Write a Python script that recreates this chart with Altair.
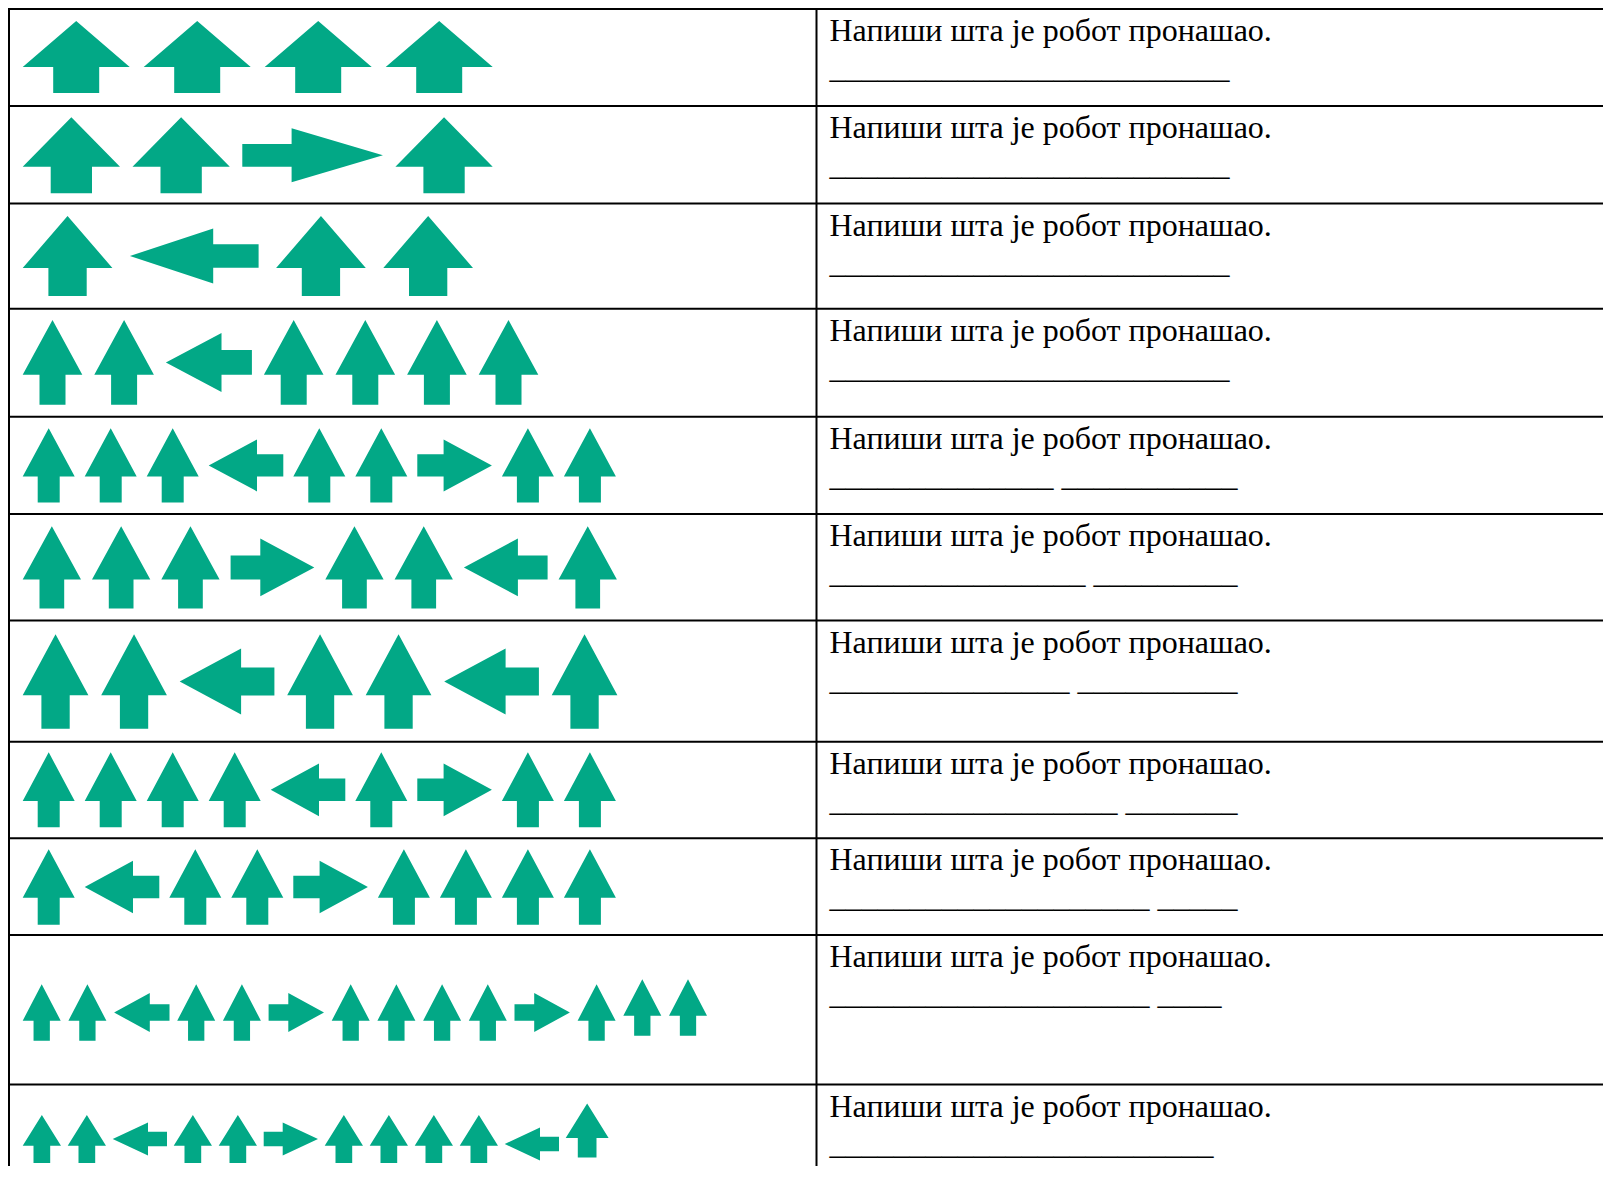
import altair as alt
import pandas as pd

# ---------------- content ----------------
PROMPT = "Напиши шта је робот пронашао."

# robot moves per row: U = up, L = left, R = right
ROBOT_MOVES = [
    "UUUU",
    "UURU",
    "ULUU",
    "UULUUUU",
    "UUULUURUU",
    "UUURUULU",
    "UULUULU",
    "UUUULURUU",
    "ULUURUUUU",
    "UULUURUUUURUUU",
    "UULUURUUUULU",
]

# answer blanks: number of underscores in each segment
BLANKS = [[25], [25], [25], [25], [14, 11], [16, 9], [15, 10], [18, 7], [20, 5], [20, 4], [24]]

# ---------------- layout (page pixels) ----------------
W, H = 1595, 1158
XMIN, XMAX = 8, 8 + W
YMIN, YMAX = 8, 8 + H
ROW_TOPS = [9, 106, 203.5, 308.7, 416.7, 514, 620.5, 741.7, 838.3, 935, 1084.5]
COL_LINES = [9, 816.5]
ARROW_CY = [56.9, 155.3, 256, 362.4, 465.4, 567.4, 681.5, 789.8, 887, 1012.5, 1139]
ARROW_X0 = 22.7
TEXT_X = 829.5
PROMPT_DY = 32
BLANK_DY = 69
# per row: up arrow (width, height, head height, stem width),
#          side arrow (length, head span, head length, stem thickness), gap
ARROW_STYLE = [
    ((107, 72, 46, 46), None, 14),
    ((97.3, 76, 49.4, 41.3), (140.6, 54, 91.3, 22.7), 12.5),
    ((89.7, 80, 52, 38.3), (128.7, 55, 83.3, 23.7), 17.5),
    ((59.6, 84.7, 54.7, 26), (86, 59, 55.6, 24.7), 12),
    ((52, 74.4, 48.4, 22), (74.6, 52, 48.3, 22.4), 10),
    ((58.3, 82.4, 53.4, 24.7), (83.7, 57.7, 54, 24), 11),
    ((65.7, 94.4, 61, 28.3), (94.7, 66, 61.4, 28), 12.8),
    ((52, 75, 48.7, 22), (74.6, 52.7, 48.3, 22.4), 10),
    ((52, 75.4, 48.4, 22), (74.6, 52.7, 48.3, 22.4), 10),
    ((38, 56.4, 36.4, 16.3), (55.4, 39, 35.7, 16.4), 7.7),
    ((38.3, 48, 30.7, 16.7), (54.3, 33, 35.3, 14.3), 6.7),
]
# (row, index) -> (vertical shift, scale)
TWEAKS = {(9, 12): (-5, 1.0), (9, 13): (-5, 1.0), (10, 10): (5, 1.0), (10, 11): (-8.5, 1.12)}
COLOR = "#02A886"


def f(v):
    return f"{v:.2f}"


def up_path(w, h, hh, sw):
    t, b = -h / 2, h / 2
    base = t + hh
    pts = [(0, t), (w / 2, base), (sw / 2, base), (sw / 2, b), (-sw / 2, b),
           (-sw / 2, base), (-w / 2, base)]
    return "M" + " L".join(f"{f(x)} {f(y)}" for x, y in pts) + " Z"


def side_path(L, hs, hl, st, sign):
    tip = L / 2
    back = L / 2 - hl
    pts = [(tip, 0), (back, -hs / 2), (back, -st / 2), (-L / 2, -st / 2),
           (-L / 2, st / 2), (back, st / 2), (back, hs / 2)]
    return "M" + " L".join(f"{f(sign * x)} {f(y)}" for x, y in pts) + " Z"


arrows = []
for r, moves in enumerate(ROBOT_MOVES):
    up, side, gap = ARROW_STYLE[r]
    x = ARROW_X0
    for i, m in enumerate(moves):
        dy, sc = TWEAKS.get((r, i), (0, 1.0))
        if m == "U":
            w, h, hh, sw = [v * sc for v in up]
            path = up_path(w, h, hh, sw)
        else:
            L, hs, hl, st = [v * sc for v in side]
            w = L
            path = side_path(L, hs, hl, st, 1 if m == "R" else -1)
        arrows.append({"x": x + w / 2, "y": ARROW_CY[r] + dy, "shape": path})
        x += w + gap
arrows_df = pd.DataFrame(arrows)

texts = []
for r, top in enumerate(ROW_TOPS):
    texts.append({"x": TEXT_X, "y": top + PROMPT_DY, "t": PROMPT})
    texts.append({"x": TEXT_X, "y": top + BLANK_DY, "t": " ".join("_" * n for n in BLANKS[r])})
texts_df = pd.DataFrame(texts)

hlines = pd.DataFrame({"y": ROW_TOPS, "x": [XMIN] * len(ROW_TOPS), "x2": [XMAX] * len(ROW_TOPS)})
vlines = pd.DataFrame({"x": COL_LINES, "y": [YMIN] * len(COL_LINES), "y2": [YMAX] * len(COL_LINES)})

xs = alt.Scale(domain=[XMIN, XMAX], nice=False, zero=False)
ys = alt.Scale(domain=[YMIN, YMAX], nice=False, zero=False, reverse=True)

h_layer = alt.Chart(hlines).mark_rule(color="black", strokeWidth=2).encode(
    x=alt.X("x:Q", scale=xs, axis=None), x2="x2:Q",
    y=alt.Y("y:Q", scale=ys, axis=None))
v_layer = alt.Chart(vlines).mark_rule(color="black", strokeWidth=2).encode(
    x=alt.X("x:Q", scale=xs, axis=None),
    y=alt.Y("y:Q", scale=ys, axis=None), y2="y2:Q")
arrow_layer = alt.Chart(arrows_df).mark_point(filled=True, opacity=1, color=COLOR, strokeWidth=0).encode(
    x=alt.X("x:Q", scale=xs, axis=None),
    y=alt.Y("y:Q", scale=ys, axis=None),
    shape=alt.Shape("shape:N", scale=None),
    size=alt.value(4))
text_layer = alt.Chart(texts_df).mark_text(
    align="left", baseline="alphabetic", font="Liberation Serif", fontSize=32, color="black").encode(
    x=alt.X("x:Q", scale=xs, axis=None),
    y=alt.Y("y:Q", scale=ys, axis=None),
    text="t:N")

chart = alt.layer(h_layer, v_layer, arrow_layer, text_layer).properties(
    width=W, height=H, padding=0, autosize="none", background="white"
).configure_view(stroke=None)

chart.save("out.html", embed_options={"renderer": "svg", "actions": False})
